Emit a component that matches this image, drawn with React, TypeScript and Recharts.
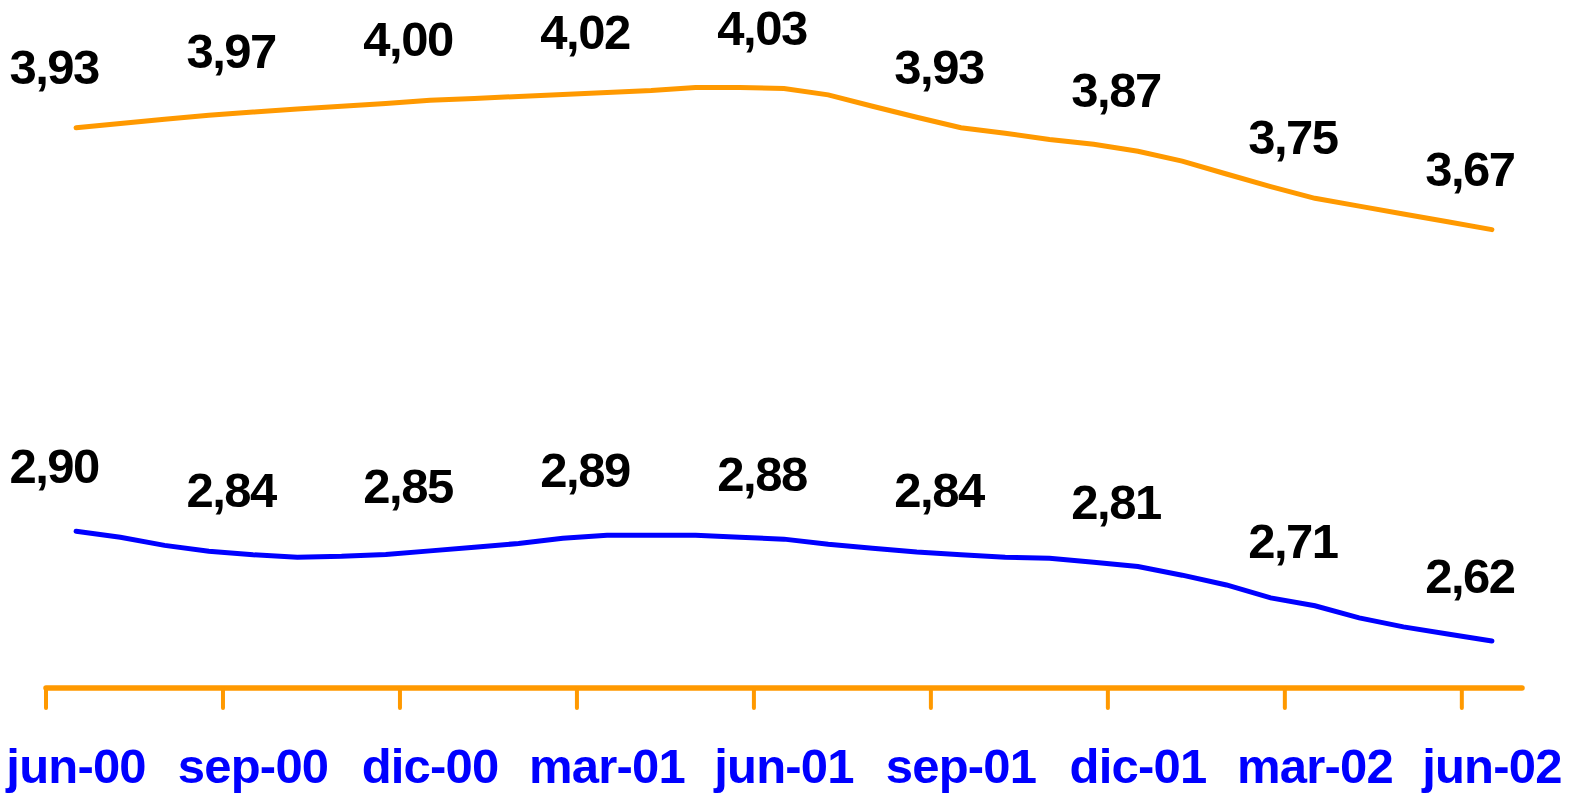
import { LineChart, Line, XAxis, YAxis, LabelList } from "recharts";

// quarterly axis labels, one every 4 observations
const quarterLabels = [
  "jun-00", "sep-00", "dic-00", "mar-01", "jun-01",
  "sep-01", "dic-01", "mar-02", "jun-02",
];

const orangeValues = [
  3.93, 3.941, 3.952, 3.962, 3.97, 3.978, 3.985, 3.992, 4.0,
  4.005, 4.01, 4.015, 4.02, 4.025, 4.033, 4.033, 4.03,
  4.014, 3.985, 3.957, 3.93, 3.916, 3.9, 3.888, 3.87,
  3.845, 3.812, 3.78, 3.75, 3.73, 3.71, 3.69, 3.67,
];

const blueValues = [
  2.9, 2.885, 2.864, 2.849, 2.84, 2.834, 2.836, 2.841, 2.85,
  2.859, 2.869, 2.882, 2.89, 2.89, 2.89, 2.885, 2.88,
  2.867, 2.857, 2.847, 2.84, 2.834, 2.831, 2.821, 2.81,
  2.788, 2.763, 2.73, 2.71, 2.679, 2.656, 2.638, 2.62,
];

const STEP = 4;
const HALF_SLOT = 0.68;

const data = orangeValues.map((v, i) => ({
  i,
  orange: v,
  blue: blueValues[i],
  orangeLabel: i % STEP === 0 ? v : null,
  blueLabel: i % STEP === 0 ? blueValues[i] : null,
}));

const labelTicks = quarterLabels.map((_, q) => q * STEP);
const markTicks = labelTicks.map((t) => t - HALF_SLOT);
const domain = [-HALF_SLOT, (quarterLabels.length - 1) * STEP + HALF_SLOT];

const FONT = "Arial, 'Liberation Sans', sans-serif";
const fmt = (v: any) => Number(v).toFixed(2).replace(".", ",");

// data labels sit a little left of and well above their point
const makeLabel = (lift: number) => (props: any) => {
  const { x, y, value } = props;
  if (value == null) return null;
  return (
    <text
      x={Number(x) - 22}
      y={Number(y) - lift}
      textAnchor="middle"
      fill="#000"
      fontSize={49}
      fontWeight="bold"
      fontFamily={FONT}
      letterSpacing={-1.5}
    >
      {fmt(value)}
    </text>
  );
};

export default function App() {
  return (
    <div>
      <style>{"body{margin:0}"}</style>
      <LineChart
        width={1573}
        height={795}
        data={data}
        margin={{ top: 22, right: 51, bottom: 22, left: 46 }}
      >
        <XAxis
          xAxisId="a_marks"
          dataKey="i"
          type="number"
          domain={domain}
          ticks={markTicks}
          allowDataOverflow
          height={25}
          tick={() => <g />}
          tickSize={20}
          axisLine={{ stroke: "#FF9900", strokeWidth: 5.5, strokeLinecap: "round" }}
          tickLine={{ stroke: "#FF9900", strokeWidth: 4, strokeLinecap: "round" }}
        />
        <XAxis
          xAxisId="b_labels"
          dataKey="i"
          type="number"
          domain={domain}
          ticks={labelTicks}
          allowDataOverflow
          height={60}
          axisLine={false}
          tickLine={false}
          tickSize={0}
          tickMargin={35}
          interval={0}
          tickFormatter={(v) => quarterLabels[Math.round(v / STEP)]}
          tick={{
            fill: "#0000FF",
            fontSize: 49,
            fontWeight: "bold",
            fontFamily: FONT,
            letterSpacing: -0.8,
          }}
        />
        <YAxis hide domain={[2.5, 4.2]} />
        <Line
          xAxisId="a_marks"
          dataKey="orange"
          stroke="#FF9900"
          strokeWidth={5}
          strokeLinecap="round"
          dot={false}
          isAnimationActive={false}
        >
          <LabelList dataKey="orangeLabel" content={makeLabel(44)} />
        </Line>
        <Line
          xAxisId="a_marks"
          dataKey="blue"
          stroke="#0000FF"
          strokeWidth={5}
          strokeLinecap="round"
          dot={false}
          isAnimationActive={false}
        >
          <LabelList dataKey="blueLabel" content={makeLabel(48)} />
        </Line>
      </LineChart>
    </div>
  );
}
